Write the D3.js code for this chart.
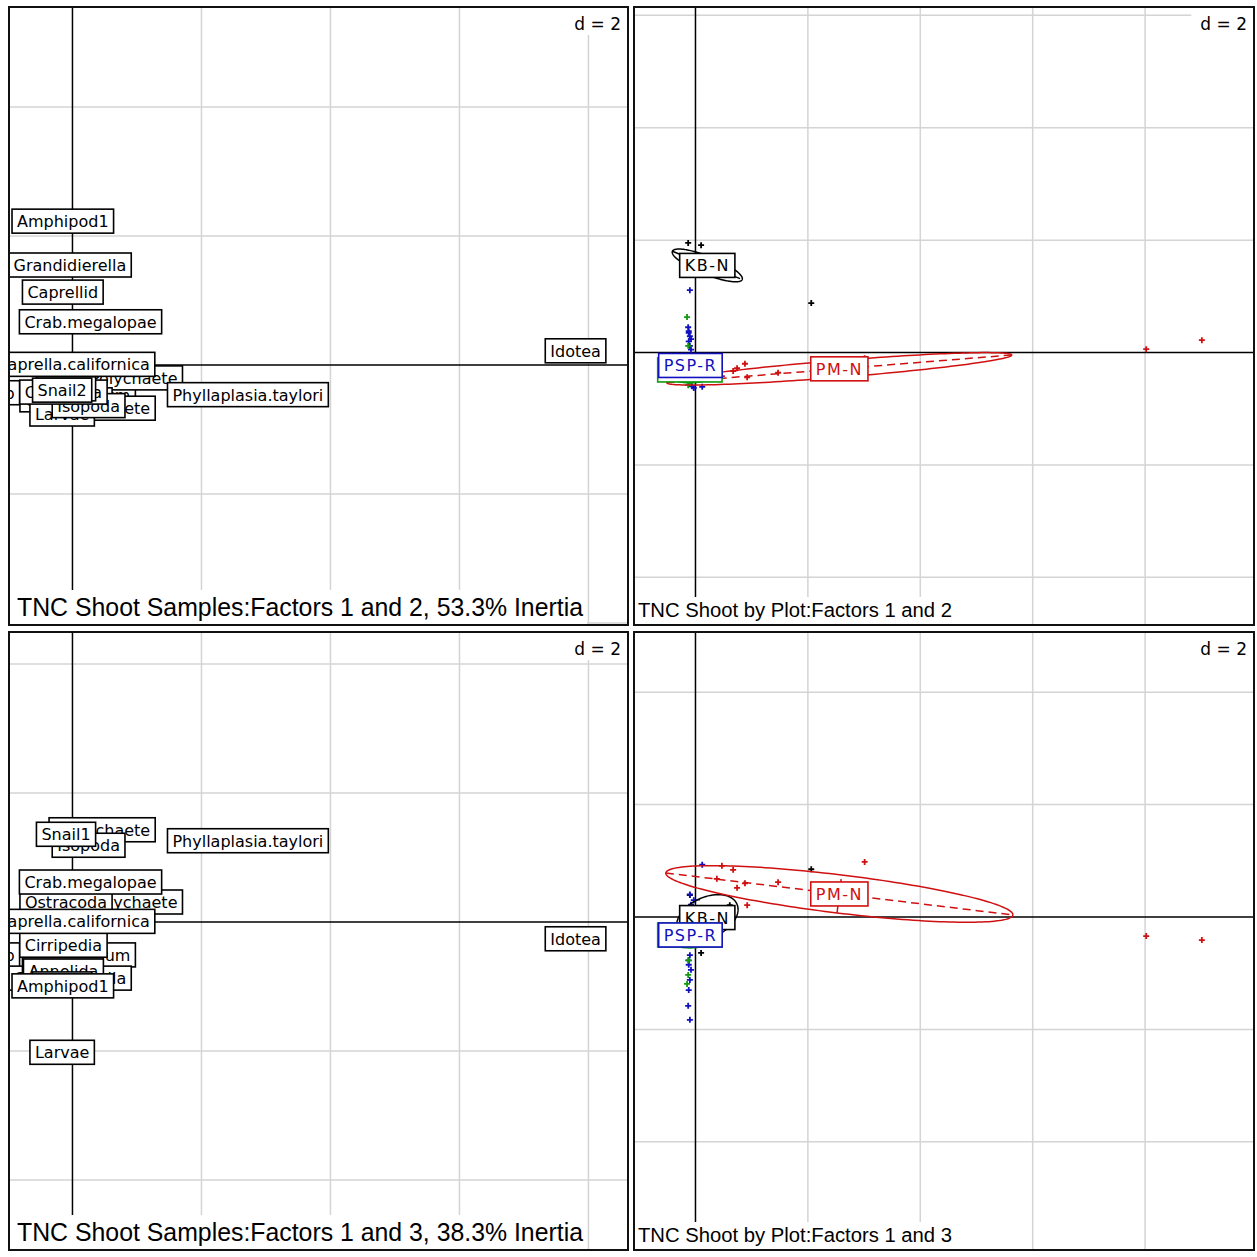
<!DOCTYPE html>
<html>
<head>
<meta charset="utf-8">
<script src="https://cdn.jsdelivr.net/npm/d3@7"></script>
<style>
  body { margin: 0; background: #fff; }
  svg { display: block; }
</style>
</head>
<body>
<svg id="chart" width="1257" height="1257"></svg>
<script>
// ---- Species scores (column coordinates), listed in drawing order ----
const speciesNames = ["Crab", "Corophium", "Grandidierella", "Caprellid", "Annelida",
  "Polychaete", "Oligochaete", "Ostracoda", "Larvae", "Isopoda", "Cirripedia",
  "Caprella.californica", "Crab.megalopae", "Phyllaplasia.taylori", "Snail1", "Snail2",
  "Amphipod1", "Idotea"];
const speciesF1 = [-1.19, 0.22, -0.04, -0.15, -0.14, 0.95, 0.46, -0.10, -0.16, 0.25, -0.14,
  0.01, 0.28, 2.72, -0.10, -0.16, -0.15, 7.80];
const speciesF2 = [-0.43, -0.47, 1.55, 1.13, -0.51, -0.20, -0.67, -0.54, -0.76, -0.63, -0.42,
  0.01, 0.67, -0.46, -0.37, -0.39, 2.23, 0.22];
const speciesF3 = [-0.51, -0.51, -0.87, -0.74, -0.76, 0.31, 1.43, 0.31, -2.02, 1.19, -0.36,
  0.01, 0.62, 1.26, 1.36, -0.96, -0.99, -0.26];

// ---- Shoot samples (row coordinates) and their plot ----
const sampleGroup = [
  "PM-N", "PM-N", "PM-N", "PM-N", "PM-N", "PM-N", "PM-N", "PM-N", "PM-N", "PM-N",
  "KB-N", "KB-N", "KB-N", "KB-N", "KB-N", "KB-N",
  "PSP-R", "PSP-R", "PSP-R", "PSP-R", "PSP-R", "PSP-R", "PSP-R", "PSP-R", "PSP-R",
  "PSP-R", "PSP-R", "PSP-R", "PSP-R", "PSP-R",
  "PSP-N", "PSP-N", "PSP-N", "PSP-N"];
const sampleF1 = [8.02, 9.01, 3.01, 0.47, 0.67, 0.88, 0.92, 1.47, 0.74, 0.38,
  2.06, -0.13, 0.10, 0.17, 0.61, -0.10,
  -0.10, -0.13, -0.12, -0.10, -0.12, -0.10, -0.12, -0.08, -0.06, -0.03, 0.12, -0.08, -0.10, -0.05,
  -0.15, -0.13, -0.13, -0.10];
const sampleF2 = [0.06, 0.22, -0.10, -0.42, -0.33, -0.20, -0.44, -0.36, -0.28, -0.30,
  0.88, 1.95, 1.91, 1.62, 1.38, 1.68,
  1.11, 0.45, 0.38, 0.29, 0.20, 0.12, 0.35, 0.24, -0.60, -0.63, -0.61, 0.05, -0.30, -0.40,
  0.63, 0.12, -0.58, -0.54];
const sampleF3 = [-0.34, -0.41, 0.98, 0.91, 0.84, 0.60, 0.21, 0.62, 0.52, 0.68,
  0.85, 0.04, -0.64, -0.23, 0.21, 0.39,
  -1.83, -1.58, -1.30, -1.12, -0.85, -0.68, -0.77, -0.94, 0.09, 0.30, 0.93, 0.22, 0.40, 0.15,
  -1.19, -1.03, -0.77, -0.23];

// ---- Plot classes: centres and 1.5-sd ellipses ----
const groupNames = ["KB-N", "PM-N", "PSP-N", "PSP-R"];
const groupColors = ["#000000", "#d01010", "#109a10", "#1010c0"];
const groupF1 = [0.21, 2.56, -0.10, -0.09];
const groupF2 = [1.55, -0.29, -0.31, -0.23];
const groupF3 = [-0.01, 0.41, -0.32, -0.32];
const ell12A = [0.67, 3.08, 0.50, 0.32];
const ell12B = [0.16, 0.15, 0.23, 0.18];
const ell12Angle = [-22, 4.6, 0, 0];
const ell13A = [0.58, 3.11, 0.50, 0.30];
const ell13B = [0.36, 0.34, 0.23, 0.18];
const ell13Angle = [25, -6.9, 0, 0];

// ---- Panel captions and grid spacing ----
const panelTitles = [
  "TNC Shoot Samples:Factors 1 and 2, 53.3% Inertia",
  "TNC Shoot by Plot:Factors 1 and 2",
  "TNC Shoot Samples:Factors 1 and 3, 38.3% Inertia",
  "TNC Shoot by Plot:Factors 1 and 3"];
const gridStep = 2;

// ---- Layout ----
const panels = [
  { x: 9,   y: 7,   w: 619, h: 618, xlim: [-0.984, 8.613], ylim: [-4.031, 5.550], kind: "label", axis: 2, title: 0 },
  { x: 634, y: 7,   w: 620, h: 618, xlim: [-1.094, 9.938], ylim: [-4.848, 6.148], kind: "class", axis: 2, title: 1 },
  { x: 9,   y: 632, w: 619, h: 618, xlim: [-0.984, 8.613], ylim: [-5.085, 4.496], kind: "label", axis: 3, title: 2 },
  { x: 634, y: 632, w: 620, h: 618, xlim: [-1.094, 9.938], ylim: [-5.925, 5.071], kind: "class", axis: 3, title: 3 }
];

const svg = d3.select("#chart");
svg.append("rect").attr("width", 1257).attr("height", 1257).attr("fill", "#fff");
const defs = svg.append("defs");

const LABEL_FONT = "'DejaVu Sans', sans-serif";

function drawBoxLabel(g, cx, cy, text, color, spacing) {
  const lg = g.append("g");
  const rect = lg.append("rect");
  const t = lg.append("text")
    .attr("x", cx).attr("y", cy + 6)
    .attr("text-anchor", "middle")
    .attr("font-family", LABEL_FONT)
    .attr("font-size", 16)
    .attr("letter-spacing", spacing || 0)
    .attr("fill", color)
    .text(text);
  const w = t.node().getComputedTextLength() + 10;
  rect.attr("x", cx - w / 2).attr("y", cy - 12)
    .attr("width", w).attr("height", 24)
    .attr("fill", "#fff").attr("stroke", color).attr("stroke-width", 1.6);
}

function ellipsePoints(cx, cy, a, b, angDeg, sx, sy) {
  const th = angDeg * Math.PI / 180;
  return d3.range(0, 361, 2).map(deg => {
    const r = deg * Math.PI / 180;
    const ex = a * Math.cos(r), ey = b * Math.sin(r);
    return [sx(cx + ex * Math.cos(th) - ey * Math.sin(th)),
            sy(cy + ex * Math.sin(th) + ey * Math.cos(th))];
  });
}

panels.forEach((p, pi) => {
  const sx = d3.scaleLinear().domain(p.xlim).range([p.x, p.x + p.w]);
  const sy = d3.scaleLinear().domain(p.ylim).range([p.y + p.h, p.y]);

  const clipId = "clip" + pi;
  defs.append("clipPath").attr("id", clipId)
    .append("rect").attr("x", p.x).attr("y", p.y).attr("width", p.w).attr("height", p.h);

  const g = svg.append("g").attr("clip-path", `url(#${clipId})`);
  g.append("rect").attr("x", p.x).attr("y", p.y).attr("width", p.w).attr("height", p.h).attr("fill", "#fff");

  // grid
  const xs = d3.range(Math.ceil(p.xlim[0] / gridStep) * gridStep, p.xlim[1], gridStep).filter(v => v !== 0);
  const ys = d3.range(Math.ceil(p.ylim[0] / gridStep) * gridStep, p.ylim[1], gridStep).filter(v => v !== 0);
  g.selectAll("line.gx").data(xs).join("line")
    .attr("x1", d => sx(d)).attr("x2", d => sx(d))
    .attr("y1", p.y).attr("y2", p.y + p.h)
    .attr("stroke", "#d4d4d4").attr("stroke-width", 1.5);
  g.selectAll("line.gy").data(ys).join("line")
    .attr("y1", d => sy(d)).attr("y2", d => sy(d))
    .attr("x1", p.x).attr("x2", p.x + p.w)
    .attr("stroke", "#d4d4d4").attr("stroke-width", 1.5);

  // "d = 2" box in the top-right corner
  const dg = g.append("g");
  const dRect = dg.append("rect");
  const dText = dg.append("text")
    .attr("x", p.x + p.w - 7).attr("y", p.y + 23)
    .attr("text-anchor", "end")
    .attr("font-family", LABEL_FONT).attr("font-size", 17)
    .attr("fill", "#000").text("d = " + gridStep);
  const dw = dText.node().getComputedTextLength();
  dRect.attr("x", p.x + p.w - dw - 16).attr("y", p.y)
    .attr("width", dw + 16).attr("height", 28).attr("fill", "#fff");

  // axes through the origin
  g.append("line").attr("x1", sx(0)).attr("x2", sx(0)).attr("y1", p.y).attr("y2", p.y + p.h)
    .attr("stroke", "#000").attr("stroke-width", 1.5);
  g.append("line").attr("y1", sy(0)).attr("y2", sy(0)).attr("x1", p.x).attr("x2", p.x + p.w)
    .attr("stroke", "#000").attr("stroke-width", 1.5);

  if (p.kind === "label") {
    const fy = p.axis === 2 ? speciesF2 : speciesF3;
    speciesNames.forEach((name, i) => {
      drawBoxLabel(g, sx(speciesF1[i]), sy(fy[i]), name, "#000", 0);
    });
  } else {
    const fy = p.axis === 2 ? sampleF2 : sampleF3;
    const gy = p.axis === 2 ? groupF2 : groupF3;
    const eA = p.axis === 2 ? ell12A : ell13A;
    const eB = p.axis === 2 ? ell12B : ell13B;
    const eAng = p.axis === 2 ? ell12Angle : ell13Angle;
    const colorOf = d3.scaleOrdinal().domain(groupNames).range(groupColors);

    // sample points as small crosses
    const pts = g.append("g");
    sampleGroup.forEach((grp, i) => {
      const cx = sx(sampleF1[i]), cy = sy(fy[i]);
      pts.append("path")
        .attr("d", `M${cx - 3},${cy}H${cx + 3}M${cx},${cy - 3}V${cy + 3}`)
        .attr("stroke", colorOf(grp)).attr("stroke-width", 1.8).attr("fill", "none");
    });

    // ellipses with dashed principal axes
    groupNames.forEach((grp, k) => {
      const col = groupColors[k];
      const cx = groupF1[k], cy = gy[k], a = eA[k], b = eB[k];
      const th = eAng[k] * Math.PI / 180;
      g.append("path")
        .attr("d", d3.line()(ellipsePoints(cx, cy, a, b, eAng[k], sx, sy)))
        .attr("fill", "none").attr("stroke", col).attr("stroke-width", 1.5);
      g.append("line")
        .attr("x1", sx(cx - a * Math.cos(th))).attr("y1", sy(cy - a * Math.sin(th)))
        .attr("x2", sx(cx + a * Math.cos(th))).attr("y2", sy(cy + a * Math.sin(th)))
        .attr("stroke", col).attr("stroke-width", 1.5).attr("stroke-dasharray", "8,5");
      g.append("line")
        .attr("x1", sx(cx + b * Math.sin(th))).attr("y1", sy(cy - b * Math.cos(th)))
        .attr("x2", sx(cx - b * Math.sin(th))).attr("y2", sy(cy + b * Math.cos(th)))
        .attr("stroke", col).attr("stroke-width", 1.5).attr("stroke-dasharray", "8,5");
    });

    // class labels at the centres
    groupNames.forEach((grp, k) => {
      drawBoxLabel(g, sx(groupF1[k]), sy(gy[k]), grp, groupColors[k], 1.5);
    });
  }

  // caption in a white box at the bottom-left corner
  const big = p.kind === "label";
  const tLen = big ? 566 : 314;
  const tx = p.x + (big ? 8 : 4);
  const tb = p.y + p.h - (big ? 9 : 8);
  g.append("rect")
    .attr("x", p.x).attr("y", tb - (big ? 26 : 20))
    .attr("width", (tx - p.x) + tLen + (big ? 4 : 6)).attr("height", p.y + p.h - (tb - (big ? 26 : 20)))
    .attr("fill", "#fff");
  g.append("text")
    .attr("x", tx).attr("y", tb)
    .attr("font-family", "'Liberation Sans', Arial, sans-serif")
    .attr("font-size", big ? 25 : 20)
    .attr("textLength", tLen).attr("lengthAdjust", "spacingAndGlyphs")
    .attr("fill", "#000")
    .text(panelTitles[p.title]);

  // frame
  svg.append("rect").attr("x", p.x).attr("y", p.y).attr("width", p.w).attr("height", p.h)
    .attr("fill", "none").attr("stroke", "#111").attr("stroke-width", 2);
});
</script>
</body>
</html>
